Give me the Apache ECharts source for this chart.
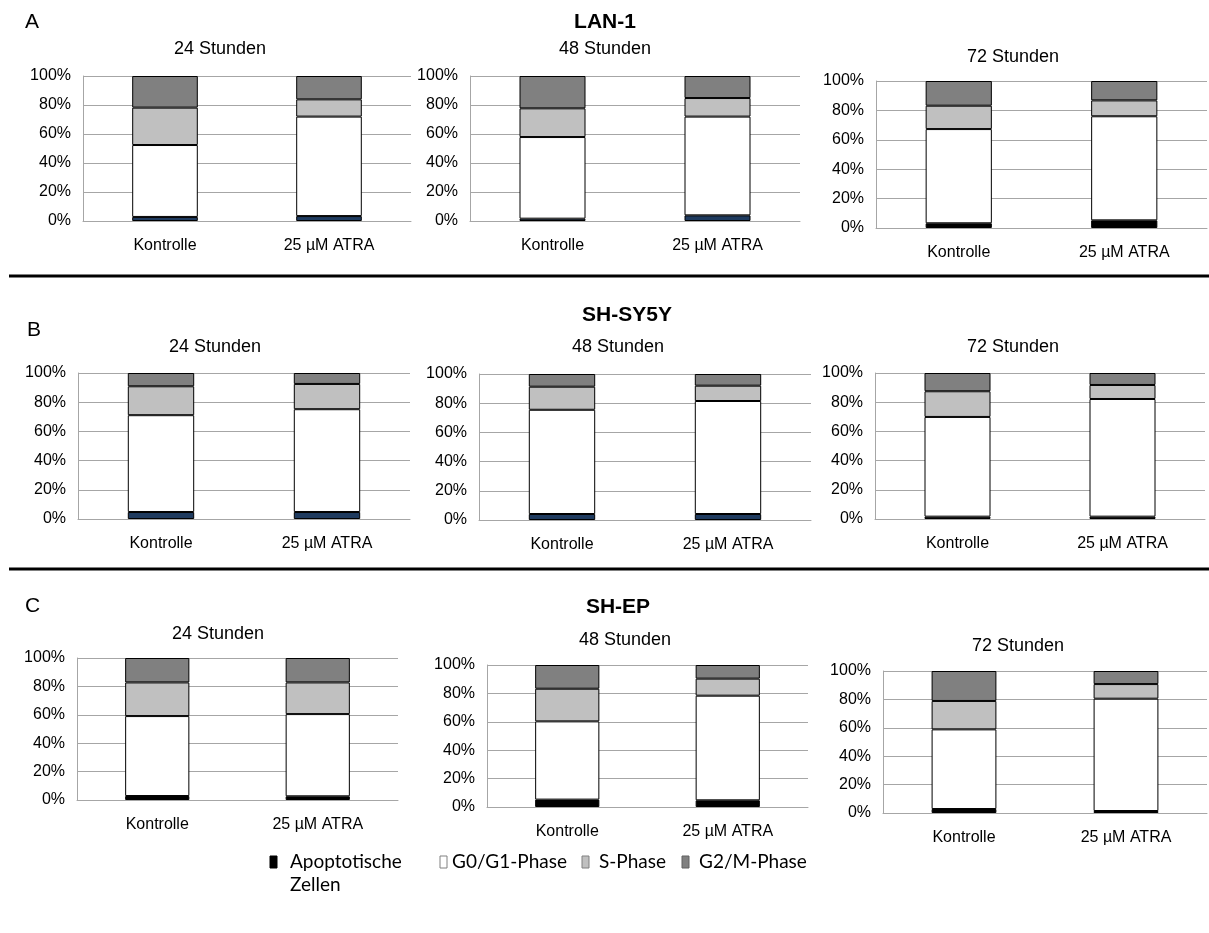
<!DOCTYPE html>
<html>
<head>
<meta charset="utf-8">
<script src="https://cdn.jsdelivr.net/npm/echarts@6/dist/echarts.min.js"></script>
<style>html,body{margin:0;padding:0;background:#fff;}#c{width:1209px;height:933px;}</style>
</head>
<body>
<div id="c"></div>
<script>
// ---- data ----
const categories = ['Kontrolle', '25 µM ATRA'];
const cellLines = ['LAN-1', 'SH-SY5Y', 'SH-EP'];
const panelLetters = ['A', 'B', 'C'];
const timeTitles = ['24 Stunden', '48 Stunden', '72 Stunden'];
const phaseNames = ['Apoptotische Zellen', 'G0/G1-Phase', 'S-Phase', 'G2/M-Phase'];
const yTicks = [0, 20, 40, 60, 80, 100];
// panels order: LAN-1 24/48/72, SH-SY5Y 24/48/72, SH-EP 24/48/72 ; each [Kontrolle, ATRA] in %
const apoptotic = [[2.8, 3.4], [1.6, 3.9], [3.2, 5.2], [4.8, 4.8], [4.1, 4.1], [1.6, 1.6], [2.8, 2.6], [5.2, 4.7], [2.8, 1.4]];
const g0g1 = [[49.6, 68.6], [56.3, 68.1], [64.1, 70.8], [66.3, 70.4], [71.4, 77.4], [68.3, 80.6], [56.3, 57.9], [55.1, 73.7], [56.1, 79.1]];
const sPhase = [[25.8, 11.9], [19.8, 12.8], [15.9, 10.8], [19.8, 17.3], [15.8, 10.5], [17.6, 9.6], [23.7, 22.3], [23.0, 12.0], [20.0, 10.3]];
const g2m = [[21.8, 16.1], [22.3, 15.2], [16.8, 13.2], [9.1, 7.5], [8.7, 8.0], [12.5, 8.2], [17.2, 17.2], [16.7, 9.6], [21.1, 9.2]];

// ---- layout (style) ----
const grids = [
  {left: 83, top: 76, width: 328, height: 145},
  {left: 470, top: 76, width: 330, height: 145},
  {left: 876, top: 81, width: 331, height: 147},
  {left: 78, top: 373, width: 332, height: 146},
  {left: 479, top: 374, width: 332, height: 146},
  {left: 875, top: 373, width: 330, height: 146},
  {left: 77, top: 658, width: 321, height: 142},
  {left: 487, top: 665, width: 321, height: 142},
  {left: 883, top: 671, width: 324, height: 142}
];
const timeTitlePos = [[220, 49], [605, 49], [1013, 57], [215, 347], [618, 347], [1013, 347], [218, 634], [625, 640], [1018, 646]];
const linePos = [[605, 22], [627, 315], [618, 607]];
const letterPos = [[25, 22], [27, 330], [25, 606]];
const apopColors = ['#1f3b5f', '#1f3b5f', '#000', '#1f3b5f', '#1f3b5f', '#000', '#000', '#000', '#000'];
const phaseColors = [null, '#ffffff', '#c0c0c0', '#808080'];
const FONT = '"Liberation Sans", Arial, sans-serif';
const gridColor = '#a6a6a6';

const phaseData = [apoptotic, g0g1, sPhase, g2m];

const xAxes = [], yAxes = [], series = [], graphics = [];
grids.forEach((g, i) => {
  xAxes.push({
    type: 'category', gridIndex: i, data: categories,
    axisLine: {show: true, lineStyle: {color: gridColor, width: 1}},
    axisTick: {show: false},
    axisLabel: {fontFamily: FONT, fontSize: 16, color: '#000', margin: 17}
  });
  yAxes.push({
    type: 'value', gridIndex: i, min: yTicks[0], max: yTicks[yTicks.length - 1], interval: yTicks[1] - yTicks[0],
    axisLine: {show: true, lineStyle: {color: gridColor, width: 1}},
    axisTick: {show: false},
    splitLine: {show: true, lineStyle: {color: gridColor, width: 1}},
    axisLabel: {fontFamily: FONT, fontSize: 16, color: '#000', margin: 12, formatter: '{value}%'}
  });
  phaseData.forEach((arr, p) => {
    series.push({
      type: 'bar', name: phaseNames[p], xAxisIndex: i, yAxisIndex: i, stack: 'panel' + i,
      barWidth: '40%', data: arr[i], silent: true,
      itemStyle: {color: p === 0 ? apopColors[i] : phaseColors[p], borderColor: '#000', borderWidth: 1}
    });
  });
  graphics.push({type: 'text', x: timeTitlePos[i][0], y: timeTitlePos[i][1],
    style: {text: timeTitles[i % 3], font: '18px ' + FONT, fill: '#000', align: 'center', verticalAlign: 'middle'}});
});
cellLines.forEach((name, r) => {
  graphics.push({type: 'text', x: linePos[r][0], y: linePos[r][1],
    style: {text: name, font: 'bold 21px ' + FONT, fill: '#000', align: 'center', verticalAlign: 'middle'}});
  graphics.push({type: 'text', x: letterPos[r][0], y: letterPos[r][1],
    style: {text: panelLetters[r], font: '21px ' + FONT, fill: '#000', align: 'left', verticalAlign: 'middle'}});
});
// separators
[276, 569].forEach(y => {
  graphics.push({type: 'line', shape: {x1: 9, y1: y, x2: 1209, y2: y}, style: {stroke: '#000', lineWidth: 3}});
});
// legend
const LFONT = '19px Lato, "Open Sans", sans-serif';
const legendItems = [
  {box: 270, text: 290, fill: '#000', stroke: '#000', label: 'Apoptotische\nZellen'},
  {box: 440, text: 452, fill: '#fff', stroke: '#808080', label: 'G0/G1-Phase'},
  {box: 582, text: 599, fill: '#c0c0c0', stroke: '#808080', label: 'S-Phase'},
  {box: 682, text: 699, fill: '#808080', stroke: '#606060', label: 'G2/M-Phase'}
];
legendItems.forEach(it => {
  graphics.push({type: 'rect', shape: {x: it.box, y: 856, width: 7, height: 12},
    style: {fill: it.fill, stroke: it.stroke, lineWidth: 1}});
  graphics.push({type: 'text', x: it.text, y: 850,
    style: {text: it.label, font: LFONT, fill: '#000', align: 'left', verticalAlign: 'top', lineHeight: 23}});
});

const chart = echarts.init(document.getElementById('c'), null, {renderer: 'canvas'});
chart.setOption({
  animation: false,
  backgroundColor: '#fff',
  grid: grids.map(g => Object.assign({containLabel: false}, g)),
  xAxis: xAxes,
  yAxis: yAxes,
  series: series,
  graphic: graphics
});
</script>
</body>
</html>
